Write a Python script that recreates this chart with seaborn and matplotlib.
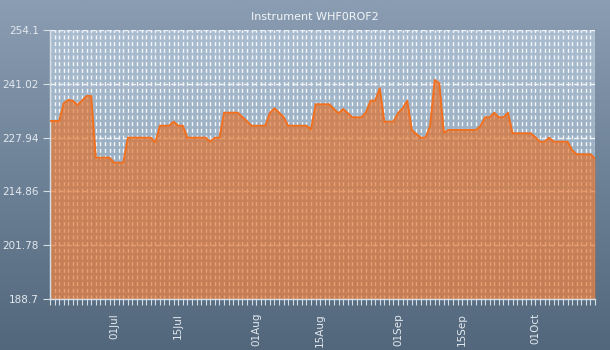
import matplotlib
matplotlib.use("Agg")
import numpy as np
import pandas as pd
import seaborn as sns
import matplotlib.pyplot as plt
import matplotlib.dates as mdates
from matplotlib.colors import LinearSegmentedColormap

# Daily readings for the instrument
start_date = "2023-06-17"
values = [
    231.98, 231.98, 231.98, 236.28, 237.08, 236.89, 235.87, 236.94, 238.05, 238.05,
    223.05, 223.05, 223.05, 223.05, 221.84, 221.84, 221.84, 227.92, 227.92, 227.92,
    227.92, 227.92, 227.92, 226.80, 230.83, 230.83, 230.83, 231.81, 230.83, 230.83,
    227.92, 227.92, 227.92, 227.92, 227.92, 226.94, 227.92, 227.92, 233.99, 233.99,
    233.99, 233.99, 232.95, 231.90, 230.83, 230.83, 230.83, 230.83, 233.92, 235.06,
    234.04, 232.95, 230.83, 230.83, 230.83, 230.83, 230.83, 229.96, 236.04, 236.04,
    236.04, 236.04, 234.89, 233.85, 234.89, 233.92, 232.88, 232.88, 232.88, 234.09,
    236.91, 236.91, 239.93, 231.81, 231.81, 231.81, 233.92, 235.06, 236.91, 229.79,
    228.82, 227.92, 227.92, 230.76, 241.94, 241.14, 229.13, 229.79, 229.79, 229.79,
    229.79, 229.79, 229.79, 229.79, 230.76, 232.88, 232.88, 233.99, 232.88, 232.88,
    233.99, 228.99, 228.99, 228.99, 228.99, 228.99, 228.01, 226.94, 226.94, 227.92,
    226.94, 226.94, 226.94, 226.94, 224.93, 223.88, 223.88, 223.88, 223.88, 222.91,
]
y_ticks = [188.7, 201.78, 214.86, 227.94, 241.02, 254.1]
label_dates = ["2023-07-01", "2023-07-15", "2023-08-01", "2023-08-15",
               "2023-09-01", "2023-09-15", "2023-10-01"]
title = "Instrument WHF0ROF2"

dates = pd.date_range(start_date, periods=len(values), freq="D")
df = pd.DataFrame({"date": dates, "value": values})

sns.set_theme(style="white")
plt.rcParams["font.family"] = ["DejaVu Sans"]

W, H = 610, 350
fig = plt.figure(figsize=(W / 100, H / 100), dpi=100)

# Figure background gradient
bg = fig.add_axes([0, 0, 1, 1], zorder=-10)
fig_cmap = LinearSegmentedColormap.from_list("figbg", ["#8a9db2", "#52677c"])
bg.imshow(np.linspace(0, 1, 256).reshape(-1, 1), cmap=fig_cmap, aspect="auto",
          extent=[0, 1, 0, 1], origin="upper")
bg.set_axis_off()

left, right, top, bottom = 50, 595, 30, 299
ax = fig.add_axes([left / W, 1 - bottom / H, (right - left) / W, (bottom - top) / H])
ax.set_facecolor("none")

# Plot-area gradient
area_cmap = LinearSegmentedColormap.from_list("areabg", ["#aabdd0", "#8a9fb4"])
ax.imshow(np.linspace(0, 1, 256).reshape(-1, 1), cmap=area_cmap, aspect="auto",
          extent=[0, 1, 0, 1], origin="upper", transform=ax.transAxes, zorder=0)

# Translucent fill so the grid shows through it
ax.fill_between(df["date"], values, y_ticks[0], color="#e56c22", alpha=0.64,
                linewidth=0, zorder=2)
sns.lineplot(data=df, x="date", y="value", ax=ax, color="#f26f1e", linewidth=1.4,
             zorder=3)

ax.set_xlim(dates[0], dates[-1])
ax.set_ylim(y_ticks[0], y_ticks[-1])
ax.set_yticks(y_ticks)
ax.set_yticklabels([f"{t:g}" for t in y_ticks])
ax.set_xticks(pd.to_datetime(label_dates))
ax.xaxis.set_major_formatter(mdates.DateFormatter("%d%b"))
ax.xaxis.set_minor_locator(mdates.DayLocator())
ax.xaxis.remove_overlapping_locs = False
ax.set_xlabel("")
ax.set_ylabel("")

ax.set_axisbelow(True)
ax.grid(False)
ax.yaxis.grid(True, color="#eef2f5", linewidth=1.0, linestyle=(0, (3.6, 2.2)))
ax.xaxis.grid(True, which="minor", color="#f4f7f9", linewidth=1.0,
              linestyle=(0, (2.9, 1.9)), snap=True)

for side in ["top", "right"]:
    ax.spines[side].set_visible(False)
for side in ["left", "bottom"]:
    ax.spines[side].set_color("#d5dde5")
    ax.spines[side].set_linewidth(1.0)

ax.tick_params(axis="y", left=True, length=5, width=0.8, color="#d5dde5",
               labelcolor="#e3e9ef", labelsize=7.5, pad=3)
ax.tick_params(axis="x", which="major", bottom=True, length=4, width=0.8,
               color="#d5dde5", labelcolor="#e3e9ef", labelsize=7.5, pad=6,
               labelrotation=90)
ax.tick_params(axis="x", which="minor", bottom=True, length=4, width=0.8,
               color="#d5dde5")

fig.text(315 / W, 1 - 17 / H, title, ha="center", va="center",
         color="#f2f5f8", fontsize=8)

fig.savefig("out.png", dpi=100)
